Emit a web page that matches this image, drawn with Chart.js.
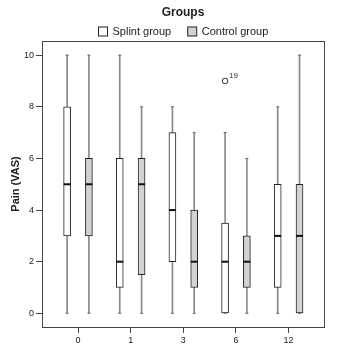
<!DOCTYPE html>
<html>
<head>
<meta charset="utf-8">
<script src="https://cdn.jsdelivr.net/npm/chart.js@4.4.1/dist/chart.umd.min.js"></script>
<style>
  body { margin: 0; background: #fff; }
  #wrap { width: 343px; height: 352px; position: relative; }
</style>
</head>
<body>
<div id="wrap"><canvas id="painChart"></canvas></div>
<script>
// weeks after start
let weekLabels = ["0", "1", "3", "6", "12"];
let yTicks = [0, 2, 4, 6, 8, 10];

// Splint group box stats
let splintMin = [0, 0, 0, 0, 0];
let splintQ1 = [3, 1, 2, 0, 1];
let splintMedian = [5, 2, 4, 2, 3];
let splintQ3 = [8, 6, 7, 3.5, 5];
let splintMax = [10, 10, 8, 7, 8];

// Control group box stats
let controlMin = [0, 0, 0, 0, 0];
let controlQ1 = [3, 1.5, 1, 1, 0];
let controlMedian = [5, 5, 2, 2, 3];
let controlQ3 = [6, 6, 4, 3, 5];
let controlMax = [10, 8, 7, 6, 10];

// outlier: splint group, week 6
let outlierWeek = [3];
let outlierValue = [9];
let outlierCase = ["19"];

let shift = 0.207;   // side by side offset of the two boxes
let textColor = "#222";
let frameColor = "#444";
let whiskerColor = "#8a8a8a";

function boxes(q1, q3, dx){
  return q1.map(function(v, i){ return { x: i + dx, y: [v, q3[i]] }; });
}
function points(vals, dx){
  return vals.map(function(v, i){ return { x: i + dx, y: v }; });
}

let datasets = [
  // medians
  { type: "scatter", label: "median", data: points(splintMedian, -shift), pointStyle: "line", radius: 3.5, borderWidth: 2, borderColor: "#111", order: 0 },
  { type: "scatter", label: "median", data: points(controlMedian, shift), pointStyle: "line", radius: 3.5, borderWidth: 2, borderColor: "#111", order: 0 },
  // outlier
  { type: "scatter", label: "outlier", data: outlierWeek.map(function(w, i){ return { x: w - shift, y: outlierValue[i] }; }),
    pointStyle: "circle", radius: 2.8, borderWidth: 1, borderColor: "#333", backgroundColor: "#fff", order: 0 },
  // whisker caps
  { type: "scatter", label: "cap", data: points(splintMin, -shift).concat(points(splintMax, -shift)), pointStyle: "line", radius: 1.5, borderWidth: 1, borderColor: "#666", order: 1 },
  { type: "scatter", label: "cap", data: points(controlMin, shift).concat(points(controlMax, shift)), pointStyle: "line", radius: 1.5, borderWidth: 1, borderColor: "#666", order: 1 },
  // boxes
  { type: "bar", label: "Splint group", data: boxes(splintQ1, splintQ3, -shift), backgroundColor: "#fff", borderColor: "#222",
    borderWidth: 1, borderSkipped: false, barThickness: 7, grouped: false, order: 2 },
  { type: "bar", label: "Control group", data: boxes(controlQ1, controlQ3, shift), backgroundColor: "#d2d2d2", borderColor: "#222",
    borderWidth: 1, borderSkipped: false, barThickness: 7, grouped: false, order: 2 },
  // whiskers
  { type: "bar", label: "whisker", data: boxes(splintMin, splintMax, -shift), backgroundColor: whiskerColor, borderWidth: 0, barThickness: 1, grouped: false, order: 3 },
  { type: "bar", label: "whisker", data: boxes(controlMin, controlMax, shift), backgroundColor: whiskerColor, borderWidth: 0, barThickness: 1, grouped: false, order: 3 }
];

// frame, title, legend and the case number next to the outlier
let decorations = {
  id: "decorations",
  beforeDatasetsDraw(chart){
    let ctx = chart.ctx;
    let a = chart.chartArea;
    ctx.save();
    ctx.strokeStyle = frameColor;
    ctx.lineWidth = 1;
    ctx.strokeRect(Math.round(a.left) + 0.5, Math.round(a.top) + 0.5, Math.round(a.right - a.left), Math.round(a.bottom - a.top));
    ctx.restore();
  },
  afterDraw(chart){
    let ctx = chart.ctx;
    let a = chart.chartArea;
    let cx = (a.left + a.right) / 2;
    ctx.save();
    ctx.fillStyle = textColor;
    ctx.textBaseline = "middle";
    ctx.textAlign = "center";
    ctx.font = "bold 12px 'Liberation Sans', Arial, sans-serif";
    ctx.fillText("Groups", cx, 13);

    // legend
    ctx.font = "11px 'Liberation Sans', Arial, sans-serif";
    let items = chart.data.datasets.filter(function(d){ return d.type === "bar" && d.label !== "whisker"; });
    let box = 9, gap = 5.5, between = 16;
    let widths = items.map(function(d){ return box + gap + ctx.measureText(d.label).width; });
    let total = widths.reduce(function(s, w){ return s + w; }, 0) + between * (items.length - 1);
    let x = Math.round(cx - total / 2);
    let y = 31;
    ctx.textAlign = "left";
    items.forEach(function(d, i){
      ctx.fillStyle = d.backgroundColor;
      ctx.fillRect(x + 0.5, y - box / 2 + 0.5, box, box);
      ctx.strokeStyle = "#222";
      ctx.lineWidth = 1;
      ctx.strokeRect(x + 0.5, y - box / 2 + 0.5, box, box);
      ctx.fillStyle = textColor;
      ctx.fillText(d.label, x + box + gap, y + 1);
      x += widths[i] + between;
    });

    // case label
    let meta = chart.getDatasetMeta(2);
    ctx.font = "8px 'Liberation Sans', Arial, sans-serif";
    ctx.fillStyle = "#333";
    meta.data.forEach(function(pt, i){
      ctx.fillText(outlierCase[i], pt.x + 4, pt.y - 5);
    });
    ctx.restore();
  }
};

let painChart = new Chart(document.getElementById("painChart"), {
  type: "bar",
  data: { datasets: datasets },
  options: {
    responsive: true,
    maintainAspectRatio: false,
    animation: false,
    layout: { padding: { top: 41, right: 19, bottom: 0, left: 0 } },
    plugins: {
      legend: { display: false },
      tooltip: { enabled: false },
      title: { display: false }
    },
    scales: {
      x: {
        type: "linear",
        offset: false,
        min: -0.684,
        max: 4.672,
        afterBuildTicks: function(scale){
          scale.ticks = weekLabels.map(function(l, i){ return { value: i }; });
        },
        afterFit: function(scale){ scale.height = 25; },
        ticks: {
          color: textColor,
          font: { family: "'Liberation Sans', Arial, sans-serif", size: 9 },
          padding: 2,
          maxRotation: 0,
          callback: function(v){ return weekLabels[v]; }
        },
        grid: { offset: false, drawOnChartArea: false, drawTicks: true, tickLength: 6, color: frameColor },
        border: { display: false }
      },
      y: {
        type: "linear",
        min: -0.53,
        max: 10.55,
        afterBuildTicks: function(scale){
          scale.ticks = yTicks.map(function(v){ return { value: v }; });
        },
        afterFit: function(scale){ scale.width = 42; },
        ticks: {
          color: textColor,
          font: { family: "'Liberation Sans', Arial, sans-serif", size: 9 },
          padding: 2
        },
        grid: { drawOnChartArea: false, drawTicks: true, tickLength: 6, color: frameColor },
        border: { display: false },
        title: {
          display: true,
          text: "Pain (VAS)",
          color: textColor,
          font: { family: "'Liberation Sans', Arial, sans-serif", size: 11, weight: "bold" },
          padding: { top: 9, bottom: 0 }
        }
      }
    }
  },
  plugins: [decorations]
});
</script>
</body>
</html>
